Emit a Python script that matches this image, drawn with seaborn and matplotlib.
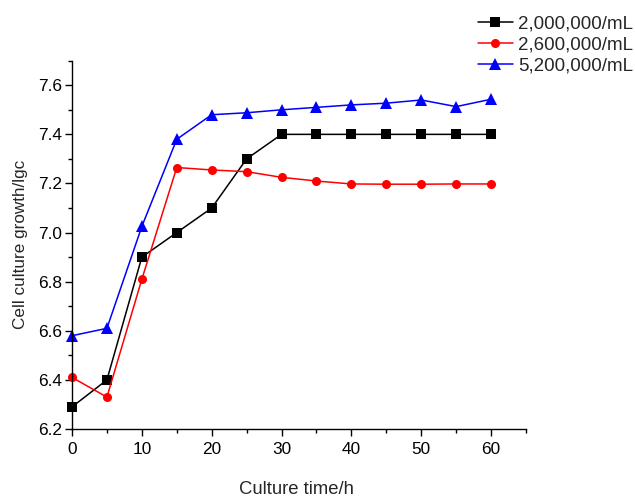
import numpy as np
import pandas as pd
import matplotlib
matplotlib.use("Agg")
import matplotlib.pyplot as plt
import seaborn as sns
from matplotlib.lines import Line2D

time_h = [0, 5, 10, 15, 20, 25, 30, 35, 40, 45, 50, 55, 60]
series_names = ["2,000,000/mL", "2,600,000/mL", "5,200,000/mL"]
growth_2000k = [6.29, 6.40, 6.90, 7.00, 7.10, 7.30, 7.40, 7.40, 7.40, 7.40, 7.40, 7.40, 7.40]
growth_2600k = [6.41, 6.33, 6.81, 7.265, 7.255, 7.248, 7.225, 7.21, 7.198, 7.197, 7.197, 7.198, 7.198]
growth_5200k = [6.58, 6.61, 7.025, 7.38, 7.48, 7.488, 7.50, 7.51, 7.52, 7.527, 7.54, 7.513, 7.543]
x_ticks = [0, 10, 20, 30, 40, 50, 60]
y_ticks = [6.2, 6.4, 6.6, 6.8, 7.0, 7.2, 7.4, 7.6]
y_ticklabels = ["6.2", "6.4", "6.6", "6.8", "7.0", "7.2", "7.4", "7.6"]

df = pd.DataFrame({
    "time": time_h * 3,
    "growth": growth_2000k + growth_2600k + growth_5200k,
    "series": [series_names[0]] * 13 + [series_names[1]] * 13 + [series_names[2]] * 13,
})

sns.set_style("ticks")
plt.rcParams["font.family"] = ["Liberation Sans", "DejaVu Sans"]

fig = plt.figure(figsize=(6.35, 4.98), dpi=100)
ax = fig.add_axes([72 / 635, 1 - 429 / 498, (526 - 72) / 635, (429 - 60.7) / 498])

palette = {series_names[0]: "black", series_names[1]: "red", series_names[2]: "blue"}
markers = {series_names[0]: "s", series_names[1]: "o", series_names[2]: "^"}
msize = {"s": 7.5, "o": 6.5, "^": 8.5}
sns.lineplot(data=df, x="time", y="growth", hue="series", style="series",
             palette=palette, markers=markers, dashes=False, ax=ax,
             linewidth=1.1, markeredgewidth=0, legend=False)
for line, name in zip(ax.lines, series_names):
    line.set_markersize(msize[markers[name]])
    line.set_clip_on(False)

ax.set_xlim(0, 65)
ax.set_ylim(6.2, 7.7)
ax.set_xticks(x_ticks)
ax.set_xticks([5, 15, 25, 35, 45, 55, 65], minor=True)
ax.set_yticks(y_ticks)
ax.set_yticklabels(y_ticklabels)
ax.set_yticks([6.3, 6.5, 6.7, 6.9, 7.1, 7.3, 7.5, 7.7], minor=True)
ax.tick_params(axis="both", which="major", direction="out", length=5, width=1,
               labelsize=12.4, color="black", labelcolor="black")
ax.tick_params(axis="x", which="major", pad=4.3)
ax.tick_params(axis="y", which="major", pad=2.2)
ax.tick_params(axis="both", which="minor", direction="out", length=2.7, width=1, color="black")
for s in ["left", "bottom"]:
    ax.spines[s].set_color("black")
    ax.spines[s].set_linewidth(1)
ax.spines["top"].set_visible(False)
ax.spines["right"].set_visible(False)

ax.set_xlabel("Culture time/h", fontsize=13.3)
ax.xaxis.label.set_va("center")
ax.xaxis.set_label_coords((296 - 72) / 454, -(489 - 429) / 368.3)
ax.set_ylabel("Cell culture growth/lgc", fontsize=12.3)
ax.yaxis.label.set_va("center")
ax.yaxis.set_label_coords(-(72 - 21) / 454, (429 - 244) / 368.3)

handles = [Line2D([], [], color=palette[n], marker=markers[n], linewidth=1.1,
                  markersize={"s": 7, "o": 6.5, "^": 8}[markers[n]], markeredgewidth=0)
           for n in series_names]
fig.legend(handles, series_names, loc="upper left", bbox_to_anchor=(478 / 635, 1 - 15 / 498),
           frameon=False, fontsize=13.5, handlelength=1.86, handletextpad=0.27,
           labelspacing=0.22, borderaxespad=0, borderpad=0)

fig.savefig("out.png", dpi=100)
